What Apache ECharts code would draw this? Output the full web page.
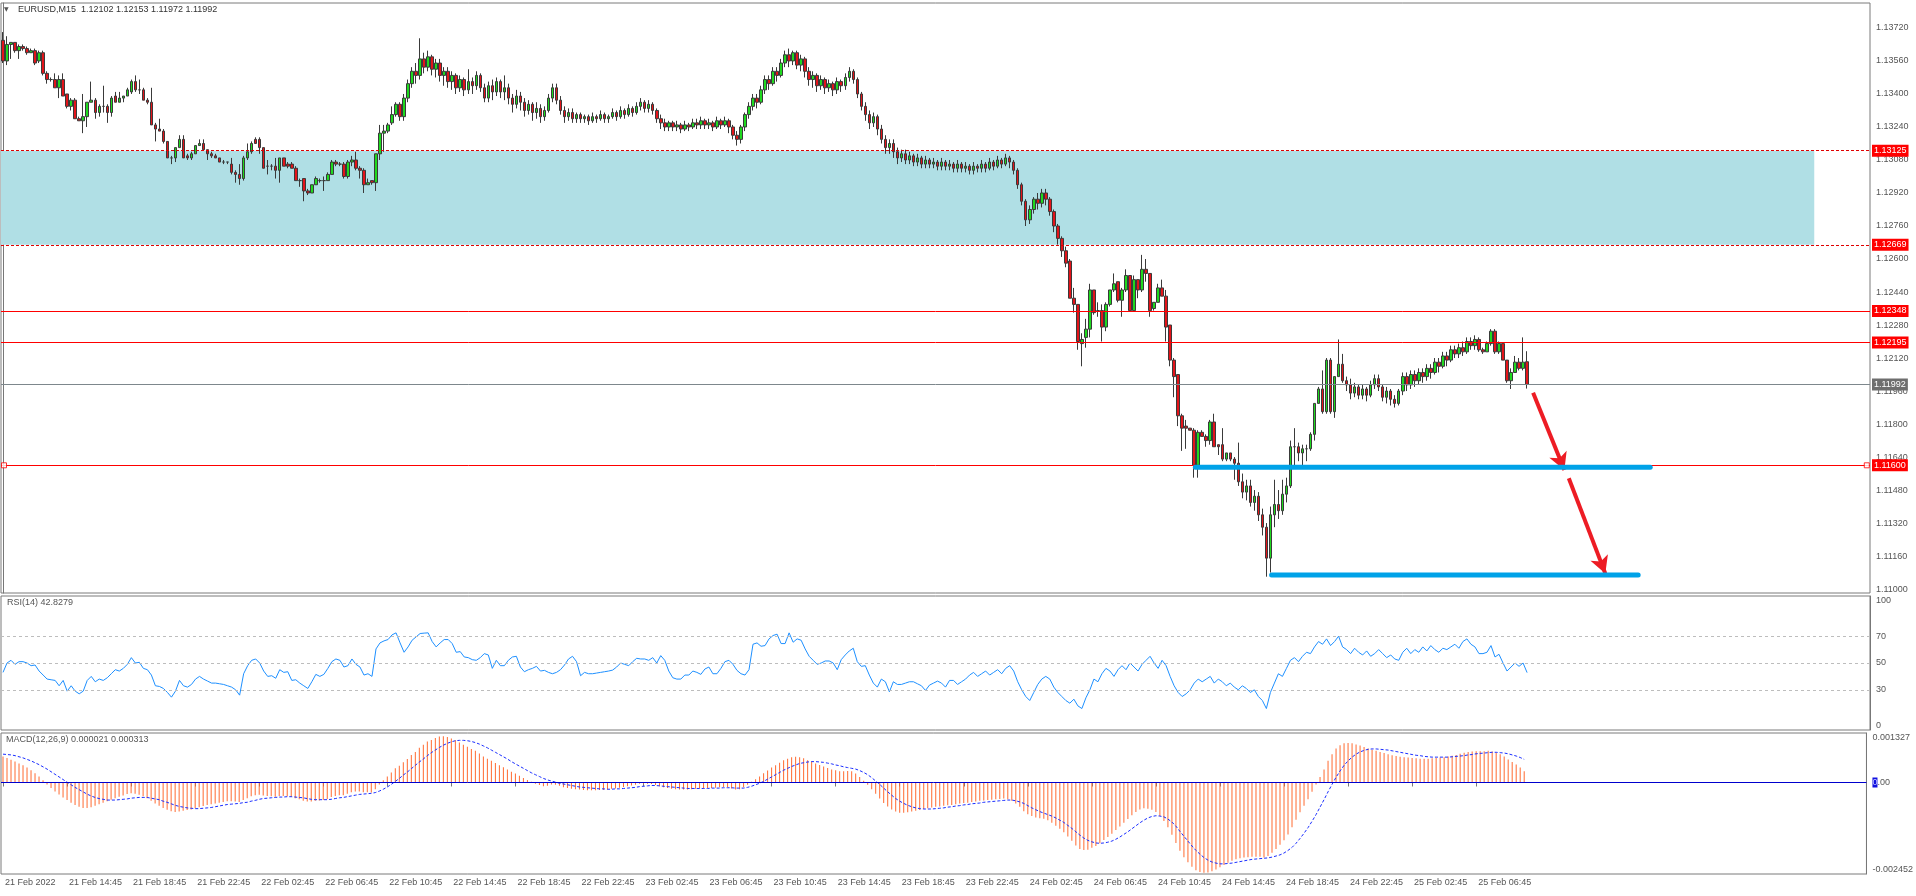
<!DOCTYPE html>
<html><head><meta charset="utf-8">
<script src="https://cdn.jsdelivr.net/npm/echarts@6/dist/echarts.min.js"></script>
<style>html,body{margin:0;padding:0;background:#fff}#c{width:1916px;height:896px}</style>
</head><body><div id="c"></div>
<script>
const symbolName = 'EURUSD', timeframe = 'M15';
const startTime = Date.UTC(2022, 1, 21, 10, 45);
const barMinutes = 15;
const slotCount = 466;
const labelEvery = 16;
// [open, close, low, high]
const candles = [
[1.1366,1.1356,1.1355,1.1370],[1.1356,1.1364,1.1354,1.1368],[1.1364,1.1365,1.1357,1.1365],[1.1365,1.1361,1.1360,1.1365],[1.1361,1.1363,1.1357,1.1364],
[1.1363,1.1362,1.1361,1.1364],[1.1362,1.1360,1.1359,1.1363],[1.1360,1.1361,1.1360,1.1362],[1.1361,1.1355,1.1354,1.1362],[1.1356,1.1360,1.1355,1.1361],
[1.1360,1.1350,1.1349,1.1361],[1.1350,1.1347,1.1345,1.1351],[1.1347,1.1347,1.1346,1.1348],[1.1347,1.1343,1.1343,1.1350],[1.1343,1.1347,1.1338,1.1349],
[1.1347,1.1339,1.1339,1.1350],[1.1340,1.1334,1.1333,1.1340],[1.1334,1.1337,1.1332,1.1338],[1.1337,1.1328,1.1328,1.1338],[1.1328,1.1327,1.1327,1.1329],
[1.1327,1.1329,1.1321,1.1340],[1.1329,1.1336,1.1324,1.1336],[1.1336,1.1337,1.1336,1.1346],[1.1337,1.1331,1.1328,1.1338],[1.1331,1.1334,1.1329,1.1335],
[1.1334,1.1334,1.1331,1.1344],[1.1334,1.1331,1.1326,1.1335],[1.1331,1.1338,1.1329,1.1339],[1.1339,1.1336,1.1336,1.1341],[1.1336,1.1338,1.1336,1.1341],
[1.1338,1.1339,1.1336,1.1339],[1.1339,1.1342,1.1339,1.1343],[1.1341,1.1346,1.1340,1.1347],[1.1346,1.1342,1.1341,1.1349],[1.1342,1.1342,1.1340,1.1347],
[1.1342,1.1337,1.1337,1.1343],[1.1337,1.1336,1.1335,1.1338],[1.1336,1.1325,1.1325,1.1343],[1.1325,1.1323,1.1317,1.1326],[1.1323,1.1322,1.1322,1.1328],
[1.1322,1.1317,1.1316,1.1323],[1.1317,1.1309,1.1309,1.1317],[1.1309,1.1309,1.1306,1.1310],[1.1309,1.1314,1.1307,1.1314],[1.1314,1.1318,1.1314,1.1320],
[1.1318,1.1309,1.1309,1.1320],[1.1310,1.1309,1.1308,1.1311],[1.1309,1.1311,1.1308,1.1312],[1.1311,1.1315,1.1311,1.1315],[1.1315,1.1316,1.1315,1.1318],
[1.1316,1.1313,1.1313,1.1318],[1.1313,1.1311,1.1308,1.1313],[1.1311,1.1310,1.1309,1.1312],[1.1310,1.1309,1.1309,1.1311],[1.1309,1.1307,1.1307,1.1309],
[1.1307,1.1307,1.1306,1.1308],[1.1307,1.1307,1.1306,1.1307],[1.1306,1.1302,1.1301,1.1309],[1.1302,1.1301,1.1297,1.1303],[1.1301,1.1299,1.1296,1.1306],
[1.1299,1.1309,1.1298,1.1310],[1.1309,1.1312,1.1308,1.1316],[1.1312,1.1316,1.1311,1.1317],[1.1318,1.1316,1.1316,1.1319],[1.1318,1.1314,1.1311,1.1319],
[1.1314,1.1304,1.1304,1.1314],[1.1305,1.1305,1.1301,1.1308],[1.1305,1.1305,1.1303,1.1306],[1.1305,1.1303,1.1299,1.1309],[1.1303,1.1309,1.1297,1.1309],
[1.1309,1.1305,1.1305,1.1309],[1.1306,1.1305,1.1304,1.1307],[1.1306,1.1304,1.1304,1.1307],[1.1304,1.1298,1.1298,1.1305],[1.1298,1.1298,1.1295,1.1299],
[1.1299,1.1293,1.1288,1.1299],[1.1293,1.1292,1.1291,1.1294],[1.1292,1.1296,1.1292,1.1296],[1.1296,1.1299,1.1296,1.1300],[1.1298,1.1298,1.1297,1.1299],
[1.1298,1.1298,1.1293,1.1300],[1.1298,1.1301,1.1298,1.1302],[1.1301,1.1307,1.1301,1.1308],[1.1307,1.1306,1.1305,1.1308],[1.1306,1.1306,1.1305,1.1307],
[1.1306,1.1300,1.1299,1.1307],[1.1300,1.1307,1.1299,1.1308],[1.1307,1.1308,1.1305,1.1310],[1.1308,1.1304,1.1303,1.1312],[1.1304,1.1303,1.1299,1.1305],
[1.1303,1.1296,1.1292,1.1304],[1.1296,1.1297,1.1296,1.1299],[1.1298,1.1297,1.1296,1.1298],[1.1297,1.1311,1.1293,1.1311],[1.1311,1.1321,1.1308,1.1325],
[1.1321,1.1322,1.1312,1.1325],[1.1322,1.1325,1.1321,1.1326],[1.1326,1.1330,1.1325,1.1334],[1.1330,1.1335,1.1329,1.1336],[1.1335,1.1329,1.1327,1.1336],
[1.1329,1.1338,1.1327,1.1340],[1.1338,1.1345,1.1336,1.1347],[1.1345,1.1351,1.1343,1.1353],[1.1351,1.1349,1.1345,1.1355],[1.1349,1.1357,1.1347,1.1367],
[1.1357,1.1353,1.1350,1.1360],[1.1353,1.1358,1.1351,1.1361],[1.1358,1.1352,1.1349,1.1359],[1.1352,1.1355,1.1348,1.1357],[1.1355,1.1349,1.1346,1.1357],
[1.1349,1.1351,1.1344,1.1353],[1.1351,1.1346,1.1343,1.1353],[1.1346,1.1349,1.1342,1.1351],[1.1349,1.1343,1.1340,1.1350],[1.1343,1.1347,1.1341,1.1349],
[1.1347,1.1342,1.1339,1.1348],[1.1342,1.1346,1.1340,1.1352],[1.1346,1.1344,1.1340,1.1348],[1.1344,1.1349,1.1342,1.1351],[1.1349,1.1343,1.1341,1.1350],
[1.1343,1.1338,1.1336,1.1345],[1.1338,1.1344,1.1336,1.1346],[1.1344,1.1341,1.1337,1.1347],[1.1341,1.1346,1.1339,1.1348],[1.1346,1.1341,1.1338,1.1347],
[1.1341,1.1343,1.1337,1.1349],[1.1343,1.1338,1.1335,1.1345],[1.1338,1.1335,1.1331,1.1340],[1.1335,1.1339,1.1333,1.1342],[1.1339,1.1336,1.1332,1.1341],
[1.1336,1.1332,1.1329,1.1338],[1.1332,1.1335,1.1330,1.1337],[1.1335,1.1331,1.1327,1.1336],[1.1331,1.1333,1.1328,1.1336],[1.1333,1.1329,1.1326,1.1335],
[1.1329,1.1332,1.1327,1.1334],[1.1332,1.1338,1.1331,1.1340],[1.1338,1.1343,1.1336,1.1345],[1.1343,1.1337,1.1335,1.1345],[1.1337,1.1332,1.1330,1.1339],
[1.1332,1.1329,1.1326,1.1334],[1.1329,1.1331,1.1327,1.1333],[1.1331,1.1328,1.1326,1.1333],[1.1328,1.1330,1.1326,1.1331],[1.1330,1.1328,1.1326,1.1331],
[1.1328,1.1329,1.1326,1.1330],[1.1329,1.1327,1.1325,1.1330],[1.1327,1.1329,1.1326,1.1331],[1.1329,1.1328,1.1326,1.1330],[1.1328,1.1330,1.1327,1.1332],
[1.1330,1.1328,1.1326,1.1331],[1.1328,1.1329,1.1326,1.1330],[1.1329,1.1331,1.1328,1.1333],[1.1331,1.1329,1.1327,1.1332],[1.1329,1.1332,1.1328,1.1334],
[1.1332,1.1330,1.1328,1.1333],[1.1330,1.1333,1.1329,1.1335],[1.1333,1.1331,1.1329,1.1334],[1.1331,1.1334,1.1330,1.1336],[1.1334,1.1336,1.1332,1.1338],
[1.1336,1.1333,1.1331,1.1337],[1.1333,1.1335,1.1331,1.1337],[1.1335,1.1332,1.1330,1.1336],[1.1332,1.1328,1.1326,1.1333],[1.1328,1.1326,1.1323,1.1330],
[1.1326,1.1324,1.1322,1.1328],[1.1324,1.1326,1.1322,1.1327],[1.1326,1.1324,1.1322,1.1327],[1.1324,1.1325,1.1322,1.1327],[1.1325,1.1323,1.1321,1.1326],
[1.1323,1.1325,1.1322,1.1327],[1.1325,1.1324,1.1322,1.1326],[1.1324,1.1326,1.1323,1.1328],[1.1326,1.1325,1.1323,1.1328],[1.1325,1.1327,1.1323,1.1329],
[1.1327,1.1325,1.1323,1.1328],[1.1325,1.1326,1.1323,1.1328],[1.1326,1.1324,1.1322,1.1327],[1.1324,1.1327,1.1323,1.1329],[1.1327,1.1325,1.1323,1.1328],
[1.1325,1.1327,1.1324,1.1329],[1.1327,1.1324,1.1321,1.1328],[1.1324,1.1320,1.1318,1.1325],[1.1320,1.1318,1.1315,1.1322],[1.1318,1.1324,1.1316,1.1325],
[1.1324,1.1330,1.1322,1.1331],[1.1330,1.1334,1.1328,1.1336],[1.1334,1.1338,1.1332,1.1340],[1.1338,1.1336,1.1333,1.1340],[1.1336,1.1342,1.1335,1.1344],
[1.1342,1.1347,1.1340,1.1349],[1.1347,1.1345,1.1342,1.1349],[1.1345,1.1351,1.1344,1.1353],[1.1351,1.1349,1.1346,1.1353],[1.1349,1.1355,1.1348,1.1357],
[1.1355,1.1359,1.1353,1.1361],[1.1359,1.1356,1.1353,1.1362],[1.1356,1.1360,1.1354,1.1361],[1.1360,1.1354,1.1352,1.1361],[1.1354,1.1357,1.1351,1.1359],
[1.1357,1.1351,1.1348,1.1358],[1.1351,1.1347,1.1344,1.1353],[1.1347,1.1349,1.1343,1.1351],[1.1349,1.1344,1.1341,1.1350],[1.1344,1.1347,1.1342,1.1349],
[1.1347,1.1343,1.1340,1.1348],[1.1343,1.1345,1.1341,1.1347],[1.1345,1.1342,1.1339,1.1346],[1.1342,1.1346,1.1340,1.1348],[1.1346,1.1344,1.1341,1.1347],
[1.1344,1.1348,1.1342,1.1350],[1.1348,1.1351,1.1346,1.1353],[1.1351,1.1347,1.1345,1.1352],[1.1347,1.1340,1.1338,1.1348],[1.1340,1.1334,1.1332,1.1341],
[1.1334,1.1330,1.1327,1.1336],[1.1330,1.1326,1.1323,1.1332],[1.1326,1.1329,1.1324,1.1331],[1.1329,1.1323,1.1320,1.1330],[1.1323,1.1318,1.1316,1.1325],
[1.1318,1.1314,1.1311,1.1320],[1.1314,1.1316,1.1311,1.1318],[1.1316,1.1312,1.1309,1.1318],[1.1312,1.1309,1.1306,1.1314],[1.1309,1.1311,1.1307,1.1313],
[1.1311,1.1308,1.1306,1.1313],[1.1308,1.1310,1.1306,1.1312],[1.1310,1.1307,1.1305,1.1311],[1.1307,1.1309,1.1305,1.1311],[1.1309,1.1306,1.1304,1.1310],
[1.1306,1.1308,1.1304,1.1310],[1.1308,1.1306,1.1304,1.1309],[1.1306,1.1307,1.1304,1.1309],[1.1307,1.1305,1.1303,1.1308],[1.1305,1.1307,1.1303,1.1309],
[1.1307,1.1305,1.1303,1.1308],[1.1305,1.1306,1.1303,1.1308],[1.1306,1.1304,1.1302,1.1307],[1.1304,1.1306,1.1302,1.1308],[1.1306,1.1304,1.1302,1.1307],
[1.1304,1.1305,1.1302,1.1307],[1.1305,1.1303,1.1301,1.1306],[1.1303,1.1305,1.1301,1.1307],[1.1305,1.1304,1.1302,1.1306],[1.1304,1.1306,1.1302,1.1308],
[1.1306,1.1304,1.1302,1.1307],[1.1304,1.1307,1.1303,1.1309],[1.1307,1.1305,1.1303,1.1308],[1.1305,1.1308,1.1304,1.1310],[1.1308,1.1306,1.1304,1.1309],
[1.1306,1.1309,1.1305,1.1311],[1.1309,1.1307,1.1304,1.1310],[1.1307,1.1303,1.1301,1.1308],[1.1303,1.1296,1.1294,1.1304],[1.1296,1.1288,1.1286,1.1297],
[1.1288,1.1279,1.1276,1.1289],[1.1279,1.1284,1.1277,1.1286],[1.1284,1.1289,1.1282,1.1290],[1.1289,1.1287,1.1284,1.1292],[1.1287,1.1292,1.1285,1.1294],
[1.1292,1.1289,1.1286,1.1294],[1.1289,1.1283,1.1281,1.1290],[1.1283,1.1276,1.1273,1.1284],[1.1276,1.1270,1.1267,1.1277],[1.1270,1.1264,1.1261,1.1271],
[1.1264,1.1258,1.1256,1.1266],[1.1259,1.1241,1.1241,1.1260],[1.1241,1.1238,1.1234,1.1246],[1.1238,1.1220,1.1216,1.1238],[1.1219,1.1221,1.1208,1.1224],
[1.1222,1.1226,1.1217,1.1231],[1.1226,1.1245,1.1222,1.1248],[1.1245,1.1234,1.1233,1.1245],[1.1235,1.1235,1.1232,1.1239],[1.1235,1.1227,1.1220,1.1238],
[1.1227,1.1238,1.1225,1.1239],[1.1238,1.1245,1.1237,1.1245],[1.1245,1.1248,1.1244,1.1253],[1.1249,1.1240,1.1239,1.1249],[1.1240,1.1245,1.1232,1.1246],
[1.1245,1.1252,1.1244,1.1255],[1.1252,1.1235,1.1235,1.1252],[1.1235,1.1250,1.1235,1.1252],[1.1250,1.1245,1.1241,1.1250],[1.1245,1.1255,1.1244,1.1262],
[1.1255,1.1253,1.1249,1.1260],[1.1253,1.1235,1.1232,1.1253],[1.1236,1.1239,1.1235,1.1239],[1.1239,1.1246,1.1239,1.1248],[1.1246,1.1242,1.1242,1.1250],
[1.1242,1.1227,1.1220,1.1245],[1.1228,1.1211,1.1208,1.1228],[1.1211,1.1203,1.1193,1.1212],[1.1204,1.1184,1.1179,1.1204],[1.1184,1.1178,1.1167,1.1185],
[1.1179,1.1178,1.1168,1.1182],[1.1178,1.1177,1.1177,1.1178],[1.1177,1.1160,1.1154,1.1178],[1.1160,1.1176,1.1154,1.1177],[1.1176,1.1174,1.1174,1.1177],
[1.1174,1.1172,1.1169,1.1175],[1.1172,1.1181,1.1170,1.1182],[1.1181,1.1169,1.1169,1.1185],[1.1170,1.1169,1.1165,1.1170],[1.1170,1.1163,1.1162,1.1178],
[1.1163,1.1166,1.1162,1.1166],[1.1166,1.1163,1.1162,1.1166],[1.1163,1.1161,1.1153,1.1164],[1.1161,1.1152,1.1150,1.1171],[1.1152,1.1147,1.1144,1.1156],
[1.1147,1.1150,1.1143,1.1153],[1.1150,1.1142,1.1140,1.1153],[1.1142,1.1145,1.1138,1.1148],[1.1145,1.1136,1.1133,1.1147],[1.1136,1.1130,1.1126,1.1139],
[1.1130,1.1115,1.1106,1.1132],[1.1115,1.1136,1.1108,1.1140],[1.1136,1.1141,1.1130,1.1153],[1.1141,1.1138,1.1134,1.1148],[1.1138,1.1146,1.1136,1.1153],
[1.1146,1.1150,1.1142,1.1154],[1.1150,1.1169,1.1149,1.1172],[1.1169,1.1169,1.1160,1.1178],[1.1169,1.1166,1.1162,1.1171],[1.1166,1.1168,1.1160,1.1170],
[1.1168,1.1168,1.1162,1.1170],[1.1168,1.1175,1.1167,1.1176],[1.1175,1.1190,1.1172,1.1190],[1.1190,1.1197,1.1190,1.1198],[1.1197,1.1186,1.1185,1.1206],
[1.1186,1.1211,1.1185,1.1212],[1.1211,1.1186,1.1185,1.1212],[1.1186,1.1203,1.1183,1.1203],[1.1203,1.1209,1.1203,1.1221],[1.1209,1.1201,1.1200,1.1214],
[1.1201,1.1199,1.1196,1.1203],[1.1199,1.1195,1.1192,1.1202],[1.1195,1.1198,1.1193,1.1200],[1.1198,1.1194,1.1192,1.1199],[1.1194,1.1197,1.1192,1.1199],
[1.1197,1.1194,1.1191,1.1198],[1.1194,1.1199,1.1193,1.1201],[1.1199,1.1202,1.1197,1.1204],[1.1202,1.1198,1.1196,1.1204],[1.1198,1.1193,1.1191,1.1199],
[1.1193,1.1196,1.1190,1.1198],[1.1196,1.1192,1.1189,1.1197],[1.1192,1.1190,1.1188,1.1194],[1.1190,1.1196,1.1189,1.1197],[1.1196,1.1203,1.1194,1.1205],
[1.1203,1.1199,1.1196,1.1205],[1.1199,1.1204,1.1197,1.1206],[1.1204,1.1201,1.1198,1.1206],[1.1201,1.1205,1.1199,1.1207],[1.1205,1.1203,1.1200,1.1207],
[1.1203,1.1207,1.1201,1.1209],[1.1207,1.1205,1.1202,1.1209],[1.1205,1.1210,1.1204,1.1212],[1.1210,1.1208,1.1205,1.1212],[1.1208,1.1213,1.1207,1.1215],
[1.1213,1.1211,1.1208,1.1215],[1.1211,1.1216,1.1210,1.1218],[1.1216,1.1214,1.1212,1.1218],[1.1214,1.1217,1.1212,1.1219],[1.1217,1.1215,1.1213,1.1220],
[1.1215,1.1220,1.1214,1.1222],[1.1220,1.1218,1.1216,1.1222],[1.1218,1.1221,1.1216,1.1223],[1.1221,1.1216,1.1215,1.1222],[1.1216,1.1215,1.1214,1.1217],
[1.1215,1.1219,1.1215,1.1220],[1.1219,1.1225,1.1218,1.1226],[1.1225,1.1215,1.1214,1.1226],[1.1215,1.1219,1.1214,1.1220],[1.1219,1.1211,1.1211,1.1219],
[1.1211,1.1201,1.1200,1.1211],[1.1201,1.1205,1.1197,1.1207],[1.1205,1.1210,1.1205,1.1213],[1.1210,1.1207,1.1206,1.1212],[1.1207,1.1210,1.1206,1.1222],
[1.12102,1.11992,1.11972,1.12153]
];
const rsi = [
43,50,52,49,51,51,50,48,48.5,44,
41,38,37.5,37,33,37,29,33,29,27,
29,37,40,36,38,37,39,42,45,44,
46,49,54,50,50.5,46,45,41,33,32.5,
31,28,24.5,29,37,33,32,34,38,40,
38,36.5,35,35,34.5,34,33,32,30,26,
42,48,52,53,50,44,40,40.5,38.6,45,
43,43.5,37,37.5,35,33,31,36,41.5,40,
41.5,46,51,53,52,47,48,53,49,47,
41,42,40,60.5,65,66.5,67.5,71,72.5,65,
58,62,67,69.5,72,72.3,72.5,66,62,65,
67.5,67.5,64.5,58,58.5,54.5,54,52.5,52,54,
57,56,46,52,48,48,52,54.5,55,47,
43.5,45,46,47.5,44,44.5,43,42,43,45,
48.5,53,55,51,40.5,43,42,42,42.5,43,
43.5,44,44.7,47,50,49,48,51,53.5,53,
53,52,54,50,55.5,52,44,39,38,38,
41,41,44,43,41.5,45.5,47,42,42,46,
51,52,49,44.5,42,41,45,64,65,62.5,
63,68,70.5,71.5,64.5,64.5,72.5,65.5,68,67,
60.5,55,52,49,50,51.5,51.5,50,45,52.5,
56,59,61,51,47.5,48,41,35,32,38,
36,28.5,36,34,34,35,36,36,34.5,33,
29.5,33.5,35,36.5,35,32,37,37,34,36,
38,41,43,40,42,44,41,43,45,42,
46,48,44,36,30,25,22,28,34,38,
40,38,32,28,25,22,20,23,18,16,
24,30,38,36,42,46,44,40,45,48,
45,50,47,44,49,52,55,50,46,52,
48,40,33,28,25,27,30,35,38,36,
38,40,35,38,36,33,35,32,30,33,
31,28,30,25,22,16,28,35,42,40,
46,52,54,51,55,58,57,62,66,64,
68,63,66,70,62,60,57,61,58,56,
59,55,57,60,57,54,56,53,52,58,
61,57,60,58,62,59,63,60,58,61,
60,62,64,61,66,68,64,62,57,57,
58,63,54.5,56.5,50,44,47,50,47.5,50,
42.83
];
const macdMain = [
0.00070,0.00066,0.00061,0.00056,0.00051,0.00046,0.00040,0.00033,0.00025,0.00016,
0.00006,-0.00005,-0.00015,-0.00024,-0.00032,-0.00040,-0.00047,-0.00054,-0.00060,-0.00065,
-0.00068,-0.00068,-0.00066,-0.00062,-0.00058,-0.00054,-0.00050,-0.00046,-0.00042,-0.00038,
-0.00035,-0.00031,-0.00029,-0.00030,-0.00033,-0.00037,-0.00042,-0.00049,-0.00056,-0.00062,
-0.00068,-0.00073,-0.00077,-0.00079,-0.00078,-0.00076,-0.00074,-0.00072,-0.00069,-0.00066,
-0.00063,-0.00060,-0.00058,-0.00056,-0.00054,-0.00052,-0.00050,-0.00050,-0.00051,-0.00052,
-0.00047,-0.00042,-0.00037,-0.00034,-0.00033,-0.00035,-0.00036,-0.00037,-0.00038,-0.00036,
-0.00036,-0.00037,-0.00039,-0.00042,-0.00045,-0.00049,-0.00051,-0.00051,-0.00049,-0.00048,
-0.00047,-0.00044,-0.00039,-0.00036,-0.00034,-0.00034,-0.00030,-0.00026,-0.00024,-0.00024,
-0.00026,-0.00026,-0.00027,-0.00018,-0.00005,0.00006,0.00016,0.00027,0.00038,0.00045,
0.00054,0.00063,0.00074,0.00082,0.00093,0.00101,0.00110,0.00114,0.00119,0.00123,
0.00124,0.00122,0.00118,0.00113,0.00107,0.00101,0.00096,0.00090,0.00085,0.00078,
0.00070,0.00064,0.00058,0.00052,0.00046,0.00041,0.00035,0.00029,0.00024,0.00018,
0.00012,0.00007,0.00002,-0.00003,-0.00007,-0.00010,-0.00009,-0.00005,-0.00006,-0.00009,
-0.00013,-0.00015,-0.00017,-0.00018,-0.00019,-0.00020,-0.00021,-0.00021,-0.00021,-0.00020,
-0.00020,-0.00019,-0.00017,-0.00016,-0.00014,-0.00012,-0.00010,-0.00008,-0.00006,-0.00003,
-0.00003,-0.00003,-0.00004,-0.00007,-0.00010,-0.00013,-0.00015,-0.00017,-0.00018,-0.00019,
-0.00019,-0.00019,-0.00018,-0.00017,-0.00016,-0.00016,-0.00015,-0.00015,-0.00014,-0.00013,
-0.00012,-0.00013,-0.00016,-0.00019,-0.00018,-0.00013,-0.00006,0.00002,0.00009,0.00016,
0.00025,0.00032,0.00040,0.00046,0.00053,0.00060,0.00064,0.00068,0.00069,0.00068,
0.00065,0.00060,0.00056,0.00051,0.00047,0.00043,0.00039,0.00035,0.00033,0.00030,
0.00030,0.00031,0.00030,0.00024,0.00015,0.00005,-0.00006,-0.00018,-0.00030,-0.00043,
-0.00055,-0.00064,-0.00072,-0.00078,-0.00081,-0.00081,-0.00080,-0.00078,-0.00076,-0.00074,
-0.00071,-0.00069,-0.00067,-0.00065,-0.00064,-0.00062,-0.00061,-0.00060,-0.00058,-0.00056,
-0.00055,-0.00054,-0.00052,-0.00051,-0.00049,-0.00048,-0.00047,-0.00046,-0.00045,-0.00044,
-0.00043,-0.00045,-0.00049,-0.00056,-0.00065,-0.00077,-0.00085,-0.00090,-0.00094,-0.00096,
-0.00097,-0.00101,-0.00108,-0.00116,-0.00124,-0.00133,-0.00145,-0.00156,-0.00169,-0.00178,
-0.00181,-0.00180,-0.00175,-0.00170,-0.00163,-0.00154,-0.00146,-0.00137,-0.00127,-0.00118,
-0.00108,-0.00098,-0.00088,-0.00079,-0.00072,-0.00069,-0.00070,-0.00073,-0.00079,-0.00090,
-0.00103,-0.00120,-0.00140,-0.00162,-0.00183,-0.00200,-0.00214,-0.00226,-0.00235,-0.00240,
-0.00242,-0.00241,-0.00238,-0.00233,-0.00227,-0.00221,-0.00215,-0.00210,-0.00206,-0.00203,
-0.00201,-0.00200,-0.00199,-0.00199,-0.00199,-0.00201,-0.00197,-0.00188,-0.00178,-0.00167,
-0.00155,-0.00139,-0.00120,-0.00100,-0.00080,-0.00062,-0.00045,-0.00025,-0.00005,0.00015,
0.00035,0.00058,0.00076,0.00091,0.00100,0.00105,0.00106,0.00105,0.00102,0.00099,
0.00095,0.00091,0.00088,0.00085,0.00082,0.00079,0.00076,0.00073,0.00071,0.00069,
0.00068,0.00067,0.00066,0.00065,0.00064,0.00064,0.00064,0.00065,0.00066,0.00067,
0.00068,0.00070,0.00072,0.00074,0.00077,0.00080,0.00082,0.00083,0.00084,0.00084,
0.00084,0.00085,0.00083,0.00080,0.00076,0.00070,0.00062,0.00055,0.00048,0.00040,
0.00030
];
const macdSignal = [
0.00076,0.00075,0.00074,0.00072,0.00069,0.00066,0.00062,0.00058,0.00053,0.00048,
0.00042,0.00036,0.00029,0.00022,0.00015,0.00008,0.00001,-0.00006,-0.00013,-0.00019,
-0.00025,-0.00031,-0.00036,-0.00040,-0.00043,-0.00045,-0.00047,-0.00047,-0.00047,-0.00046,
-0.00045,-0.00044,-0.00042,-0.00041,-0.00040,-0.00040,-0.00040,-0.00042,-0.00044,-0.00046,
-0.00050,-0.00053,-0.00057,-0.00061,-0.00064,-0.00066,-0.00068,-0.00069,-0.00070,-0.00070,
-0.00069,-0.00068,-0.00067,-0.00065,-0.00063,-0.00061,-0.00059,-0.00058,-0.00057,-0.00056,
-0.00054,-0.00053,-0.00050,-0.00048,-0.00045,-0.00043,-0.00042,-0.00041,-0.00040,-0.00039,
-0.00039,-0.00038,-0.00038,-0.00039,-0.00040,-0.00041,-0.00043,-0.00045,-0.00046,-0.00046,
-0.00046,-0.00046,-0.00045,-0.00043,-0.00041,-0.00040,-0.00038,-0.00036,-0.00034,-0.00032,
-0.00031,-0.00030,-0.00029,-0.00027,-0.00023,-0.00018,-0.00012,-0.00005,0.00003,0.00011,
0.00020,0.00028,0.00037,0.00046,0.00055,0.00063,0.00072,0.00080,0.00087,0.00094,
0.00100,0.00105,0.00109,0.00112,0.00113,0.00113,0.00112,0.00110,0.00107,0.00103,
0.00098,0.00093,0.00087,0.00081,0.00075,0.00069,0.00063,0.00056,0.00050,0.00044,
0.00038,0.00032,0.00026,0.00021,0.00016,0.00011,0.00007,0.00004,0.00001,-0.00002,
-0.00004,-0.00006,-0.00008,-0.00010,-0.00012,-0.00013,-0.00014,-0.00015,-0.00016,-0.00017,
-0.00017,-0.00018,-0.00018,-0.00017,-0.00017,-0.00016,-0.00015,-0.00014,-0.00013,-0.00011,
-0.00010,-0.00009,-0.00008,-0.00008,-0.00009,-0.00010,-0.00011,-0.00012,-0.00013,-0.00014,
-0.00015,-0.00016,-0.00016,-0.00016,-0.00016,-0.00016,-0.00016,-0.00015,-0.00015,-0.00015,
-0.00014,-0.00014,-0.00014,-0.00015,-0.00015,-0.00015,-0.00013,-0.00010,-0.00006,-0.00002,
0.00003,0.00009,0.00015,0.00021,0.00027,0.00033,0.00038,0.00043,0.00047,0.00051,
0.00053,0.00055,0.00056,0.00056,0.00055,0.00054,0.00052,0.00050,0.00047,0.00045,
0.00042,0.00040,0.00038,0.00036,0.00032,0.00027,0.00021,0.00013,0.00004,-0.00005,
-0.00015,-0.00025,-0.00034,-0.00043,-0.00050,-0.00056,-0.00061,-0.00065,-0.00068,-0.00070,
-0.00071,-0.00071,-0.00071,-0.00070,-0.00069,-0.00068,-0.00066,-0.00065,-0.00063,-0.00062,
-0.00060,-0.00059,-0.00057,-0.00056,-0.00055,-0.00053,-0.00052,-0.00051,-0.00050,-0.00049,
-0.00048,-0.00047,-0.00047,-0.00049,-0.00052,-0.00056,-0.00062,-0.00068,-0.00073,-0.00078,
-0.00082,-0.00086,-0.00090,-0.00095,-0.00101,-0.00107,-0.00115,-0.00123,-0.00132,-0.00141,
-0.00149,-0.00155,-0.00159,-0.00162,-0.00163,-0.00162,-0.00160,-0.00157,-0.00152,-0.00146,
-0.00139,-0.00132,-0.00124,-0.00116,-0.00108,-0.00101,-0.00095,-0.00091,-0.00089,-0.00090,
-0.00092,-0.00098,-0.00106,-0.00117,-0.00131,-0.00144,-0.00157,-0.00170,-0.00182,-0.00192,
-0.00201,-0.00208,-0.00213,-0.00216,-0.00218,-0.00218,-0.00217,-0.00216,-0.00214,-0.00212,
-0.00210,-0.00208,-0.00206,-0.00205,-0.00204,-0.00203,-0.00202,-0.00200,-0.00197,-0.00194,
-0.00189,-0.00182,-0.00174,-0.00163,-0.00150,-0.00136,-0.00121,-0.00104,-0.00086,-0.00066,
-0.00046,-0.00025,-0.00005,0.00014,0.00031,0.00046,0.00058,0.00068,0.00076,0.00082,
0.00086,0.00089,0.00090,0.00090,0.00089,0.00088,0.00087,0.00085,0.00083,0.00081,
0.00079,0.00077,0.00075,0.00073,0.00072,0.00070,0.00069,0.00068,0.00068,0.00068,
0.00068,0.00068,0.00069,0.00070,0.00071,0.00072,0.00074,0.00075,0.00077,0.00078,
0.00079,0.00080,0.00081,0.00081,0.00080,0.00079,0.00077,0.00074,0.00071,0.00067,
0.00062
];
const priceTicks = [1.11000,1.11160,1.11320,1.11480,1.11640,1.11800,1.11960,1.12120,1.12280,1.12440,1.12600,1.12760,1.12920,1.13080,1.13240,1.13400,1.13560,1.13720];
const priceRange = [1.10981, 1.13841];
const zoneLevels = [1.13125, 1.12669];
const zoneEndBar = 451.6;
const redLevels = [1.12348, 1.12195];
const supportLevel = 1.11600;
const bidLevel = 1.11992;
const supportMarkers = [[0.25, 1.11600], [464.7, 1.11600]];
const blueLines = [[[297.3, 1.11590], [410.7, 1.11590]], [[316.3, 1.11068], [407.7, 1.11068]]];
const arrows = [[[381.5, 1.11952], [389.3, 1.11577]], [[390.4, 1.11537], [399.5, 1.11076]]];
const rsiLevels = [70, 50, 30];
const rsiTicks = [0, 30, 50, 70, 100];
const rsiText = 'RSI(14) 42.8279';
const macdRange = [-0.002452, 0.001327];
const macdTicks = [-0.002452, 0, 0.001327];
const macdText = 'MACD(12,26,9) 0.000021 0.000313';

const FONT = '"Liberation Sans", Arial, sans-serif';
const MONTHS = ['Jan','Feb','Mar','Apr','May','Jun','Jul','Aug','Sep','Oct','Nov','Dec'];
const pad = n => String(n).padStart(2, '0');
const cats = [];
for (let i = 0; i < slotCount; i++) {
  if (i < candles.length) {
    const d = new Date(startTime + i * barMinutes * 60000);
    const base = d.getUTCDate() + ' ' + MONTHS[d.getUTCMonth()];
    cats.push(i === 0 ? base + ' ' + d.getUTCFullYear() : base + ' ' + pad(d.getUTCHours()) + ':' + pad(d.getUTCMinutes()));
  } else cats.push('f' + i);
}
const showLabel = idx => idx < candles.length && idx % labelEvery === 0;
const last = candles[candles.length - 1];
const headerText = symbolName + ',' + timeframe + '  ' + [last[0], last[3], last[2], last[1]].map(v => v.toFixed(5)).join(' ');

function tag(v, bg) {
  return { show: true, formatter: v.toFixed(5), position: 'end', distance: 2, color: '#fff', backgroundColor: bg,
    padding: [2, 2, 1, 2], fontSize: 9, fontFamily: FONT, lineHeight: 9 };
}
const levelLines = [
  { yAxis: zoneLevels[0], lineStyle: { color: '#e00000', type: [3, 2], width: 1 }, label: tag(zoneLevels[0], '#ff0000') },
  { yAxis: zoneLevels[1], lineStyle: { color: '#e00000', type: [3, 2], width: 1 }, label: tag(zoneLevels[1], '#ff0000') },
  ...redLevels.map(v => ({ yAxis: v, lineStyle: { color: '#ff0000', type: 'solid', width: 1 }, label: tag(v, '#ff0000') })),
  { yAxis: supportLevel, lineStyle: { color: '#ff0000', type: 'solid', width: 1 }, label: tag(supportLevel, '#ff0000') },
  { yAxis: bidLevel, lineStyle: { color: '#7d878c', type: 'solid', width: 1 }, label: tag(bidLevel, '#6e6e6e') }
];

const gridBase = { left: 1, right: 46, show: true, borderColor: '#7a7a7a', borderWidth: 1, backgroundColor: 'transparent' };
const axisLabelBase = { color: '#555', fontSize: 9, fontFamily: FONT };

const option = {
  animation: false,
  backgroundColor: '#ffffff',
  grid: [
    Object.assign({ top: 3, height: 590 }, gridBase),
    Object.assign({ top: 596, height: 134 }, gridBase),
    Object.assign({ top: 733, height: 141 }, gridBase)
  ],
  xAxis: [
    { type: 'category', gridIndex: 0, data: cats, boundaryGap: true, show: false },
    { type: 'value', gridIndex: 0, min: -0.5, max: slotCount - 0.5, show: false },
    { type: 'category', gridIndex: 1, data: cats, boundaryGap: true, show: false },
    { type: 'category', gridIndex: 2, data: cats, boundaryGap: true, axisLine: { show: false },
      axisTick: { show: true, interval: showLabel, alignWithLabel: true, length: 4, lineStyle: { color: '#777' } },
      axisLabel: Object.assign({ interval: showLabel, align: 'left', margin: 4, padding: [0, 0, 0, 2] }, axisLabelBase),
      splitLine: { show: false } }
  ],
  yAxis: [
    { type: 'value', gridIndex: 0, position: 'right', min: priceRange[0], max: priceRange[1],
      axisLine: { show: true, lineStyle: { color: '#777' } },
      axisTick: { show: false },
      axisLabel: Object.assign({ customValues: priceTicks, margin: 6, formatter: v => v.toFixed(5) }, axisLabelBase),
      splitLine: { show: false } },
    { type: 'value', gridIndex: 1, position: 'right', min: 0, max: 100,
      axisLine: { show: true, lineStyle: { color: '#777' } },
      axisTick: { show: false },
      axisLabel: Object.assign({ customValues: rsiTicks, margin: 6, showMinLabel: true, showMaxLabel: true,
        verticalAlignMinLabel: 'bottom', verticalAlignMaxLabel: 'top' }, axisLabelBase),
      splitLine: { show: false } },
    { type: 'value', gridIndex: 2, position: 'right', min: macdRange[0], max: macdRange[1],
      axisLine: { show: true, lineStyle: { color: '#777' } },
      axisTick: { show: false },
      axisLabel: Object.assign({ customValues: macdTicks, margin: 6, showMinLabel: true, showMaxLabel: true,
        verticalAlignMinLabel: 'bottom', verticalAlignMaxLabel: 'top',
        formatter: v => v === 0 ? '{z|0}{n|.00}' : v.toFixed(6),
        rich: { z: { backgroundColor: '#1010e0', color: '#c8c8ff', fontSize: 9, fontFamily: FONT, padding: [1, 0, 0, 0] }, n: { color: '#555', fontSize: 9, fontFamily: FONT } } }, axisLabelBase),
      splitLine: { show: false } }
  ],
  graphic: [
    { type: 'text', left: 4, top: 6, style: { text: '▼', font: '6px "DejaVu Sans"', fill: '#555' } },
    { type: 'text', left: 18, top: 5, style: { text: headerText, font: '9px ' + FONT, fill: '#333' } },
    { type: 'text', left: 7, top: 598, style: { text: rsiText, font: '9px ' + FONT, fill: '#555' } },
    { type: 'text', left: 6, top: 735, style: { text: macdText, font: '9px ' + FONT, fill: '#555' } }
  ],
  series: [
    { name: 'zone', type: 'line', xAxisIndex: 1, yAxisIndex: 0, data: [], z: 1, silent: true,
      markArea: { silent: true, itemStyle: { color: '#b0dfe5' },
        data: [[{ coord: [-0.5, zoneLevels[0]] }, { coord: [zoneEndBar, zoneLevels[1]] }]] } },
    { name: 'price', type: 'candlestick', xAxisIndex: 0, yAxisIndex: 0, data: candles, barWidth: 3, z: 3,
      itemStyle: { color: '#1fd91f', color0: '#e3141a', borderColor: '#3a3a3a', borderColor0: '#3a3a3a', borderColorDoji: '#3a3a3a', borderWidth: 1 },
      markLine: { silent: true, symbol: ['none', 'none'], precision: 5, emphasis: { disabled: true }, data: levelLines } },
    ...blueLines.map((seg, k) => ({ name: 'blue' + k, type: 'line', xAxisIndex: 1, yAxisIndex: 0, data: seg, symbol: 'none', z: 5, silent: true,
      lineStyle: { color: '#00a2e8', width: 5, cap: 'round' } })),
    { name: 'arrows', type: 'line', xAxisIndex: 1, yAxisIndex: 0, data: [], z: 6, silent: true,
      markLine: { silent: true, symbol: ['none', 'arrow'], symbolSize: [14, 17], emphasis: { disabled: true },
        lineStyle: { color: '#ed1c24', width: 4, type: 'solid' }, label: { show: false },
        data: arrows.map(a => [{ coord: a[0] }, { coord: a[1] }]) } },
    { name: 'markers', type: 'scatter', xAxisIndex: 1, yAxisIndex: 0, data: supportMarkers, symbol: 'rect', symbolSize: 5, z: 7, silent: true,
      itemStyle: { color: '#ffffff', borderColor: '#ff0000', borderWidth: 1 } },
    { name: 'RSI', type: 'line', xAxisIndex: 2, yAxisIndex: 1, data: rsi, symbol: 'none', silent: true,
      lineStyle: { color: '#1e90ff', width: 1 },
      markLine: { silent: true, symbol: ['none', 'none'], label: { show: false }, emphasis: { disabled: true },
        lineStyle: { color: '#bdbdbd', type: [3, 3], width: 1 }, data: rsiLevels.map(v => ({ yAxis: v })) } },
    { name: 'MACD', type: 'bar', xAxisIndex: 3, yAxisIndex: 2, data: macdMain, barWidth: 1, silent: true,
      itemStyle: { color: '#ff6a30' },
      markLine: { silent: true, symbol: ['none', 'none'], label: { show: false }, emphasis: { disabled: true },
        lineStyle: { color: '#0000cd', type: 'solid', width: 1 }, data: [{ yAxis: 0 }] } },
    { name: 'Signal', type: 'line', xAxisIndex: 3, yAxisIndex: 2, data: macdSignal, symbol: 'none', silent: true, z: 4,
      lineStyle: { color: '#1a2eff', width: 1, type: [3, 2] } }
  ]
};
const chart = echarts.init(document.getElementById('c'));
chart.setOption(option);
</script>
</body></html>
